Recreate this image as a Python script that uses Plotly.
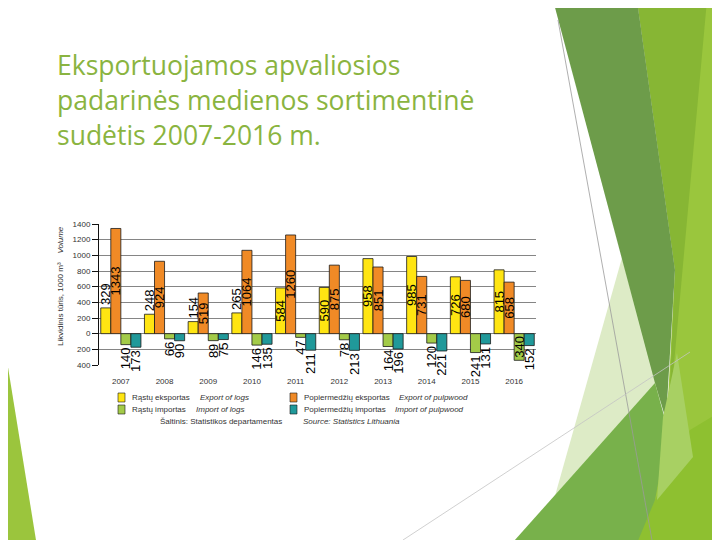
import plotly.graph_objects as go

# ---------------- data ----------------
YEARS = ["2007", "2008", "2009", "2010", "2011", "2012", "2013", "2014", "2015", "2016"]
LOG_EXPORT = [329, 248, 154, 265, 584, 590, 958, 985, 726, 815]
PULP_EXPORT = [1343, 924, 519, 1064, 1260, 875, 851, 731, 680, 658]
LOG_IMPORT = [140, 66, 89, 146, 47, 78, 164, 120, 241, 340]
PULP_IMPORT = [173, 90, 75, 135, 211, 213, 196, 221, 131, 152]

SERIES_LT = ["Rąstų eksportas", "Popiermedžių eksportas", "Rąstų importas", "Popiermedžių importas"]
SERIES_EN = ["Export of logs", "Export of pulpwood", "Import of logs", "Import of pulpwood"]

Y_TICKS = [-400, -200, 0, 200, 400, 600, 800, 1000, 1200, 1400]
Y_TICKTEXT = ["400", "200", "0", "200", "400", "600", "800", "1000", "1200", "1400"]

TITLE_LINES = ["Eksportuojamos apvaliosios", "padarinės medienos sortimentinė", "sudėtis 2007-2016 m."]
Y_TITLE = "Likvidinis tūris, 1000 m³"
Y_TITLE_EN = "Volume"
SOURCE_LT = "Šaltinis: Statistikos departamentas"
SOURCE_EN = "Source: Statistics Lithuania"

# ---------------- layout geometry (screen pixels) ----------------
OFF = 8                      # page body margin
SW, SH = 720, 540            # window
X0, X1, Y0, Y1 = 99, 536, 224, 365   # plot area on screen
W, H = SW, SH
L, R, T, B = X0 - OFF, SW + OFF - X1, Y0 - OFF, SH + OFF - Y1
PW = X1 - X0
PH = Y1 - Y0


def px(x):
    return (x - X0) / PW


def py(y):
    return (Y1 - y) / PH


def path(points):
    return "M " + " L ".join(f"{px(x):.4f},{py(y):.4f}" for x, y in points) + " Z"


COLORS = ["#FFE512", "#F08A26", "#A3CB48", "#20999A"]
SIGNS = [1, 1, -1, -1]
VALUES = [LOG_EXPORT, PULP_EXPORT, LOG_IMPORT, PULP_IMPORT]
FONT = "Liberation Sans"

fig = go.Figure()
for name, en, vals, sign, color in zip(SERIES_LT, SERIES_EN, VALUES, SIGNS, COLORS):
    fig.add_trace(go.Bar(
        x=YEARS,
        y=[sign * v for v in vals],
        name=f"{name} – {en}",
        marker=dict(color=color, line=dict(color="#1a1a1a", width=0.8)),
        text=[str(v) for v in vals],
        textangle=-90,
        textposition=["inside" if v >= 340 else "outside" for v in vals],
        insidetextanchor="middle",
        constraintext="none",
        textfont=dict(family=FONT, size=13, color="#000000"),
        cliponaxis=False,
        showlegend=False,
    ))

shapes = []
# slide decorations
deco = [
    ([(637, 0), (740, 0), (740, 560), (600, 560), (667, 417), (675, 270)], "#9AC63D"),
    ([(625, 560), (740, 560), (740, 400), (690, 430)], "#8EC030"),
    ([(637, 0), (707, 0), (668, 430), (675, 270)], "#87B634"),
    ([(627, 240), (660, 400), (553, 503)], "#DDEBC6"),
    ([(553, 0), (637, 0), (675, 270), (666, 420), (655, 383)], "#6D9C4A"),
    ([(497, 560), (655, 383), (668, 430), (655, 500), (630, 560)], "#78B14B"),
    ([(663, 417), (677, 353), (693, 457), (657, 500)], "#A8D063"),
    ([(0, 318), (36, 540), (39, 560), (0, 560)], "#9BC53D"),
]
for pts, col in deco:
    shapes.append(dict(type="path", xref="paper", yref="paper", path=path(pts),
                       fillcolor=col, line=dict(width=0), layer="below"))
for (x0, y0), (x1, y1), col in [((558, 20), (652, 540), "#9a9a9a"), ((403, 540), (690, 352), "#c4c4c4")]:
    shapes.append(dict(type="line", xref="paper", yref="paper", x0=px(x0), y0=py(y0), x1=px(x1), y1=py(y1),
                       line=dict(color=col, width=0.8), layer="below"))

# legend (swatches + labels)
LEG_COLS = [(118, 130, 198), (290, 301.5, 397)]
LEG_ROWS = [397.5, 409.5]
annotations = []
order = [(0, 0, 0), (1, 0, 1), (2, 1, 0), (3, 1, 1)]
for idx, row, col in order:
    sx, tx, ex = LEG_COLS[col]
    cy = LEG_ROWS[row]
    shapes.append(dict(type="rect", xref="paper", yref="paper",
                       x0=px(sx), x1=px(sx + 7), y0=py(cy - 4.5), y1=py(cy + 4.5),
                       fillcolor=COLORS[idx], line=dict(color="#1a1a1a", width=0.6)))
    annotations.append(dict(x=px(tx), y=py(cy), xref="paper", yref="paper", xanchor="left", yanchor="middle",
                            text=SERIES_LT[idx], showarrow=False,
                            font=dict(family=FONT, size=8, color="#333333")))
    annotations.append(dict(x=px(ex if row == 0 else ex - 4), y=py(cy), xref="paper", yref="paper",
                            xanchor="left", yanchor="middle",
                            text=f"<i>{SERIES_EN[idx]}</i>", showarrow=False,
                            font=dict(family=FONT, size=8, color="#333333")))

annotations.append(dict(x=px(157.5), y=py(421), xref="paper", yref="paper", xanchor="left", yanchor="middle",
                        text=SOURCE_LT, showarrow=False, font=dict(family=FONT, size=8, color="#333333")))
annotations.append(dict(x=px(300.5), y=py(421), xref="paper", yref="paper", xanchor="left", yanchor="middle",
                        text=f"<i>{SOURCE_EN}</i>", showarrow=False, font=dict(family=FONT, size=8, color="#333333")))

# y axis title
annotations.append(dict(x=px(60), y=py(286), xref="paper", yref="paper", xanchor="center", yanchor="middle",
                        text=f"{Y_TITLE}\u00a0\u00a0\u00a0\u00a0<i>{Y_TITLE_EN}</i>", textangle=-90, showarrow=False,
                        font=dict(family=FONT, size=8, color="#333333")))

# slide title
for line, cy in zip(TITLE_LINES, [65, 100, 135]):
    annotations.append(dict(x=px(55), y=py(cy), xref="paper", yref="paper", xanchor="left", yanchor="middle",
                            text=line, showarrow=False,
                            font=dict(family="Open Sans", size=26.5, color="#8AB440")))

fig.update_layout(
    width=W, height=H,
    margin=dict(l=L, r=R, t=T, b=B, autoexpand=False),
    paper_bgcolor="white", plot_bgcolor="white",
    barmode="group", bargap=0.08, bargroupgap=0,
    showlegend=False,
    xaxis=dict(type="category", showgrid=False, showline=False, zeroline=False,
               ticks="outside", ticklen=8, tickcolor="rgba(0,0,0,0)",
               tickfont=dict(family=FONT, size=8, color="#333333")),
    yaxis=dict(range=[-400, 1400], tickvals=Y_TICKS, ticktext=Y_TICKTEXT,
               showgrid=True, gridcolor="#858585", gridwidth=1,
               zeroline=True, zerolinecolor="#858585", zerolinewidth=1,
               showline=True, linecolor="#111111", linewidth=1,
               ticks="outside", ticklen=6, tickcolor="#111111",
               tickfont=dict(family=FONT, size=8, color="#333333")),
    shapes=shapes,
    annotations=annotations,
)

fig.write_html("out.html")
